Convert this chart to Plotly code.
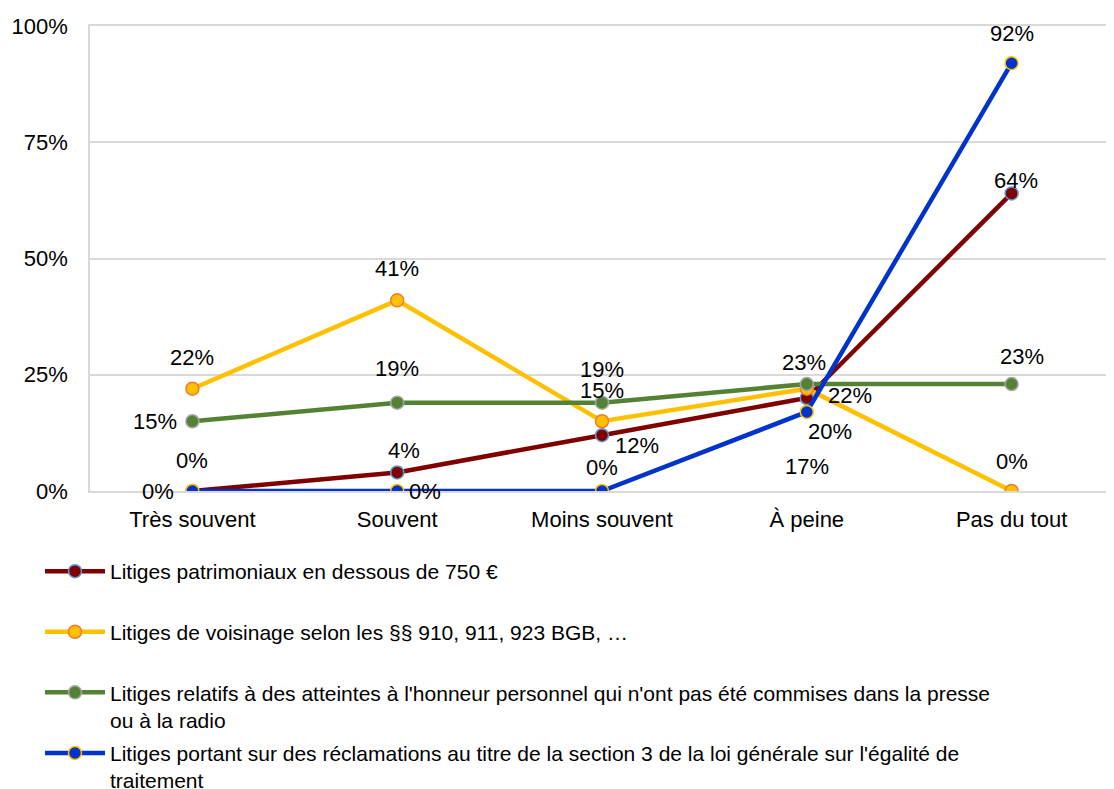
import plotly.graph_objects as go

categories = ["Très souvent", "Souvent", "Moins souvent", "À peine", "Pas du tout"]

series_names = [
    "Litiges patrimoniaux en dessous de 750 €",
    "Litiges de voisinage selon les §§ 910, 911, 923 BGB, …",
    "Litiges relatifs à des atteintes à l'honneur personnel qui n'ont pas été commises dans la presse<br>ou à la radio",
    "Litiges portant sur des réclamations au titre de la section 3 de la loi générale sur l'égalité de<br>traitement",
]

patrimoniaux = [0.00, 0.04, 0.12, 0.20, 0.64]
voisinage = [0.22, 0.41, 0.15, 0.22, 0.00]
honneur = [0.15, 0.19, 0.19, 0.23, 0.23]
egalite = [0.00, 0.00, 0.00, 0.17, 0.92]

y_ticks = [0, 0.25, 0.5, 0.75, 1.0]
y_tick_labels = ["0%", "25%", "50%", "75%", "100%"]

# styles
line_colors = ["#800000", "#FFC000", "#548235", "#0033CC"]
marker_edge = ["#5B9BD5", "#ED7D31", "#A5A5A5", "#FFC000"]
# label pixel offsets (dx, dy) per point, dy positive = down
label_offsets = [
    [(0, -31), (7, -22), (35, 10), (23, 33), (4, -13)],
    [(0, -31), (0, -32), (0, -31), (43, 7), (0, -30)],
    [(-37, 0), (0, -34), (0, -33), (-3, -22), (10, -28)],
    [(-34, 0), (28, 0), (0, -24), (0, 55), (0, -30)],
]

FONT = "Liberation Sans, Arial, sans-serif"
FS = 22
W, H = 1106, 781

all_values = [patrimoniaux, voisinage, honneur, egalite]

fig = go.Figure()
for i, (name, vals) in enumerate(zip(series_names, all_values)):
    label = name if "<br>" in name else name + "<br>\u00a0"
    fig.add_trace(go.Scatter(
        x=categories, y=vals, mode="lines+markers", name=label,
        legendgroup=f"g{i}",
        line=dict(color=line_colors[i], width=4.5),
        marker=dict(size=13, color=line_colors[i], line=dict(color=marker_edge[i], width=1.5)),
        hoverinfo="skip",
    ))

annotations = []
for i, vals in enumerate(all_values):
    for j, v in enumerate(vals):
        dx, dy = label_offsets[i][j]
        annotations.append(dict(
            x=categories[j], y=v, xref="x", yref="y",
            text=f"{round(v * 100)}%", showarrow=False,
            xshift=dx, yshift=-dy,
            font=dict(family=FONT, size=FS, color="#000000"),
        ))

fig.update_layout(
    width=W, height=H,
    margin=dict(l=82, r=0, t=18, b=298, autoexpand=False),
    paper_bgcolor="white", plot_bgcolor="white",
    font=dict(family=FONT, size=FS, color="#000000"),
    annotations=annotations,
    showlegend=True,
    legend=dict(
        xref="container", yref="container",
        x=32 / W, y=1 - 543 / H, xanchor="left", yanchor="top",
        valign="top", tracegroupgap=3, itemwidth=60,
        font=dict(family=FONT, size=21, color="#000000"),
        bgcolor="rgba(0,0,0,0)",
    ),
    xaxis=dict(
        type="category", range=[-0.5, 4.5],
        showgrid=False, showline=True, linecolor="#D9D9D9", linewidth=1.5,
        mirror=True, ticks="", ticklabelstandoff=8, tickangle=0,
        tickfont=dict(family=FONT, size=FS, color="#000000"),
        fixedrange=True,
    ),
    yaxis=dict(
        range=[0, 1], tickvals=y_ticks, ticktext=y_tick_labels,
        showgrid=True, gridcolor="#D9D9D9", gridwidth=1.5,
        showline=True, linecolor="#D9D9D9", linewidth=1.5, mirror=True,
        zeroline=False, ticks="", ticklabelstandoff=16,
        tickfont=dict(family=FONT, size=FS, color="#000000"),
        fixedrange=True,
    ),
)

fig.write_html("out.html")
